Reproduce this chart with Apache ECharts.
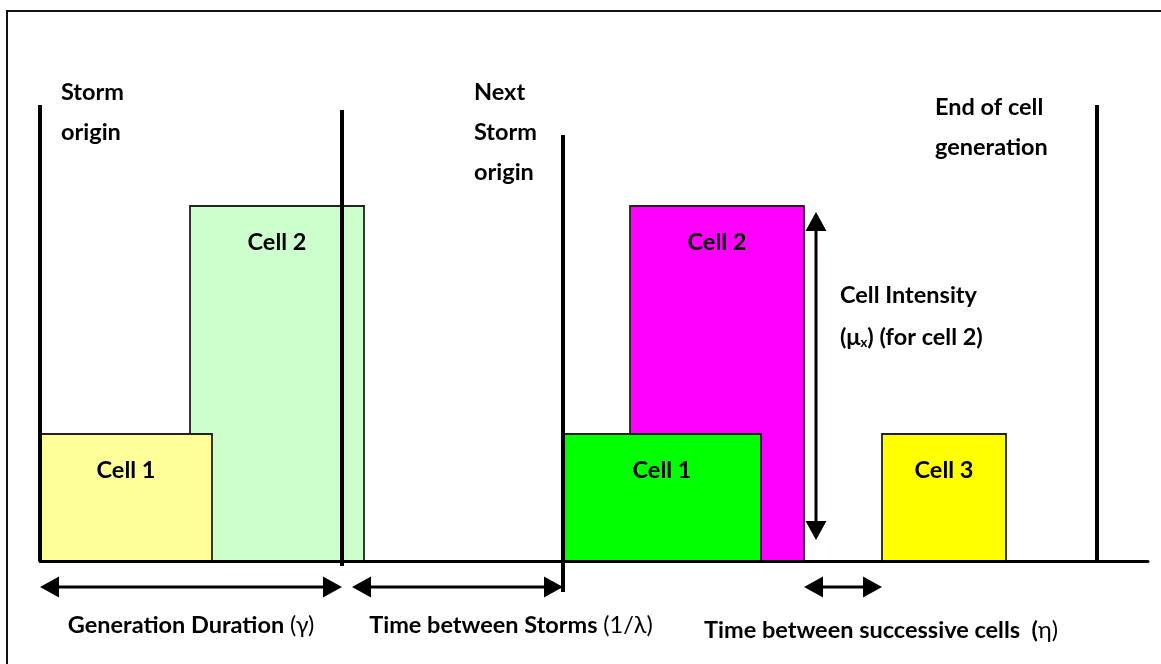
<!DOCTYPE html>
<html>
<head>
<meta charset="utf-8">
<script src="https://cdn.jsdelivr.net/npm/echarts@6/dist/echarts.min.js"></script>
<style>html,body{margin:0;padding:0;background:#fff}#c{width:1161px;height:664px}</style>
</head>
<body>
<div id="c"></div>
<script>
// ---- data (time units along x, intensity units along y) ----
const cellNames     = ['Cell 2', 'Cell 1', 'Cell 2', 'Cell 1', 'Cell 3'];
const cellStart     = [15, 0, 59, 52.3, 84.2];
const cellEnd       = [32.4, 17.2, 76.4, 72.1, 96.6];
const cellIntensity = [3.55, 1.27, 3.55, 1.27, 1.27];

const eventNames  = ['Storm origin', 'End of generation', 'Next storm origin', 'End of cell generation'];
const eventTime   = [0, 30.2, 52.3, 105.7];
const eventTop    = [4.56, 4.51, 4.26, 4.56];
const eventBottom = [0, -0.05, -0.31, 0];

const spanNames = ['Generation Duration', 'Time between Storms', 'Time between successive cells', 'Cell Intensity'];
const spanX0 = [0, 31.2, 76.4, 77.6];
const spanY0 = [-0.26, -0.26, -0.26, 0.21];
const spanX1 = [30.2, 52.3, 84.2, 77.6];
const spanY1 = [-0.26, -0.26, -0.26, 3.49];

const noteBold    = ['Storm\norigin', 'Next\nStorm\norigin', 'End of cell\ngeneration', 'Cell Intensity', 'Generation Duration ', 'Time between Storms ', 'Time between successive cells  (', '(μ'];
const noteRegular = ['', '', '', '', '(γ)', '(1/λ)', 'η)', ''];
const noteX = [2.1, 43.4, 89.5, 80, 15.1, 47.1, 84.1, 80];
const noteY = [4.69, 4.69, 4.54, 2.66, -0.64, -0.64, -0.69, 2.24];
// ---------------------------------------------------------------

const cellColors = ['#CCFFCC', '#FFFF99', '#FF00FF', '#00FF00', '#FFFF00'];
const FONT = 'Lato';
const FS = 23.5;

function arrowChildren(a, b, head, width, lw) {
  const dx = b[0] - a[0], dy = b[1] - a[1];
  const len = Math.sqrt(dx * dx + dy * dy);
  const ux = dx / len, uy = dy / len, px = -uy, py = ux;
  const a2 = [a[0] + ux * head, a[1] + uy * head];
  const b2 = [b[0] - ux * head, b[1] - uy * head];
  const tri = (tip, base) => ({
    type: 'polygon',
    shape: { points: [tip, [base[0] + px * width / 2, base[1] + py * width / 2], [base[0] - px * width / 2, base[1] - py * width / 2]] },
    style: { fill: '#000' }
  });
  return [
    { type: 'line', shape: { x1: a2[0], y1: a2[1], x2: b2[0], y2: b2[1] }, style: { stroke: '#000', lineWidth: lw } },
    tri(a, a2), tri(b, b2)
  ];
}

const chart = echarts.init(document.getElementById('c'), null, { renderer: 'canvas' });
chart.setOption({
  animation: false,
  backgroundColor: '#fff',
  grid: { left: 40, right: 13, top: 11, bottom: 3 },
  xAxis: {
    type: 'value', min: 0, max: 110.8, z: 5,
    axisLine: { onZero: true, lineStyle: { color: '#000', width: 3 } },
    axisTick: { show: false }, axisLabel: { show: false }, splitLine: { show: false }
  },
  yAxis: {
    type: 'value', min: -1, max: 5.5,
    axisLine: { show: false }, axisTick: { show: false }, axisLabel: { show: false }, splitLine: { show: false }
  },
  graphic: [{
    type: 'rect', shape: { x: 7, y: 11, width: 1300, height: 800 },
    style: { fill: 'none', stroke: '#111', lineWidth: 2 }, z: 0
  }],
  series: [
    {
      type: 'custom', z: 2, clip: false,
      data: cellNames.map((n, i) => [cellStart[i], cellEnd[i], cellIntensity[i], i]),
      renderItem: (params, api) => {
        const i = api.value(3);
        const p0 = api.coord([api.value(0), api.value(2)]);
        const p1 = api.coord([api.value(1), 0]);
        return {
          type: 'group',
          children: [
            { type: 'rect', shape: { x: p0[0], y: p0[1], width: p1[0] - p0[0], height: p1[1] - p0[1] },
              style: { fill: cellColors[i], stroke: '#222', lineWidth: 1.8 } },
            { type: 'text', style: { text: cellNames[i], x: (p0[0] + p1[0]) / 2, y: p0[1] + 36,
              align: 'center', verticalAlign: 'middle', font: 'bold ' + FS + 'px ' + FONT, fill: '#000' } }
          ]
        };
      }
    },
    {
      type: 'custom', z: 3, clip: false,
      data: eventNames.map((n, i) => [eventTime[i], eventBottom[i], eventTop[i]]),
      renderItem: (params, api) => {
        const a = api.coord([api.value(0), api.value(1)]);
        const b = api.coord([api.value(0), api.value(2)]);
        return { type: 'line', shape: { x1: a[0], y1: a[1], x2: b[0], y2: b[1] }, style: { stroke: '#000', lineWidth: 4 } };
      }
    },
    {
      type: 'custom', z: 4, clip: false,
      data: spanNames.map((n, i) => [spanX0[i], spanY0[i], spanX1[i], spanY1[i]]),
      renderItem: (params, api) => {
        const a = api.coord([api.value(0), api.value(1)]);
        const b = api.coord([api.value(2), api.value(3)]);
        return { type: 'group', children: arrowChildren(a, b, 19, 21, 3) };
      }
    },
    {
      type: 'custom', z: 6, clip: false,
      data: noteBold.map((n, i) => [noteX[i], noteY[i], i]),
      renderItem: (params, api) => {
        const i = api.value(2);
        const p = api.coord([api.value(0), api.value(1)]);
        const bottom = noteY[i] < 0;
        if (i === 7) {
          return { type: 'text', style: {
            text: '{b|(μ}{s|x}{b|) (for cell 2)}', x: p[0], y: p[1], align: 'left', verticalAlign: 'middle',
            rich: { b: { font: 'bold ' + FS + 'px ' + FONT, fill: '#000' }, s: { font: 'bold 13px ' + FONT, fill: '#000', padding: [11, 0, 0, 0] } }
          } };
        }
        const txt = noteRegular[i] ? '{b|' + noteBold[i] + '}{r|' + noteRegular[i] + '}' : '{b|' + noteBold[i].split('\n').join('}\n{b|') + '}';
        return { type: 'text', style: {
          text: txt, x: p[0], y: p[1] - (bottom ? 0 : 20), align: bottom ? 'center' : 'left', verticalAlign: bottom ? 'middle' : 'top',
          rich: { b: { font: 'bold ' + FS + 'px ' + FONT, fill: '#000', lineHeight: 40 }, r: { font: FS + 'px ' + FONT, fill: '#000', lineHeight: 40 } }
        } };
      }
    }
  ]
});
</script>
</body>
</html>
